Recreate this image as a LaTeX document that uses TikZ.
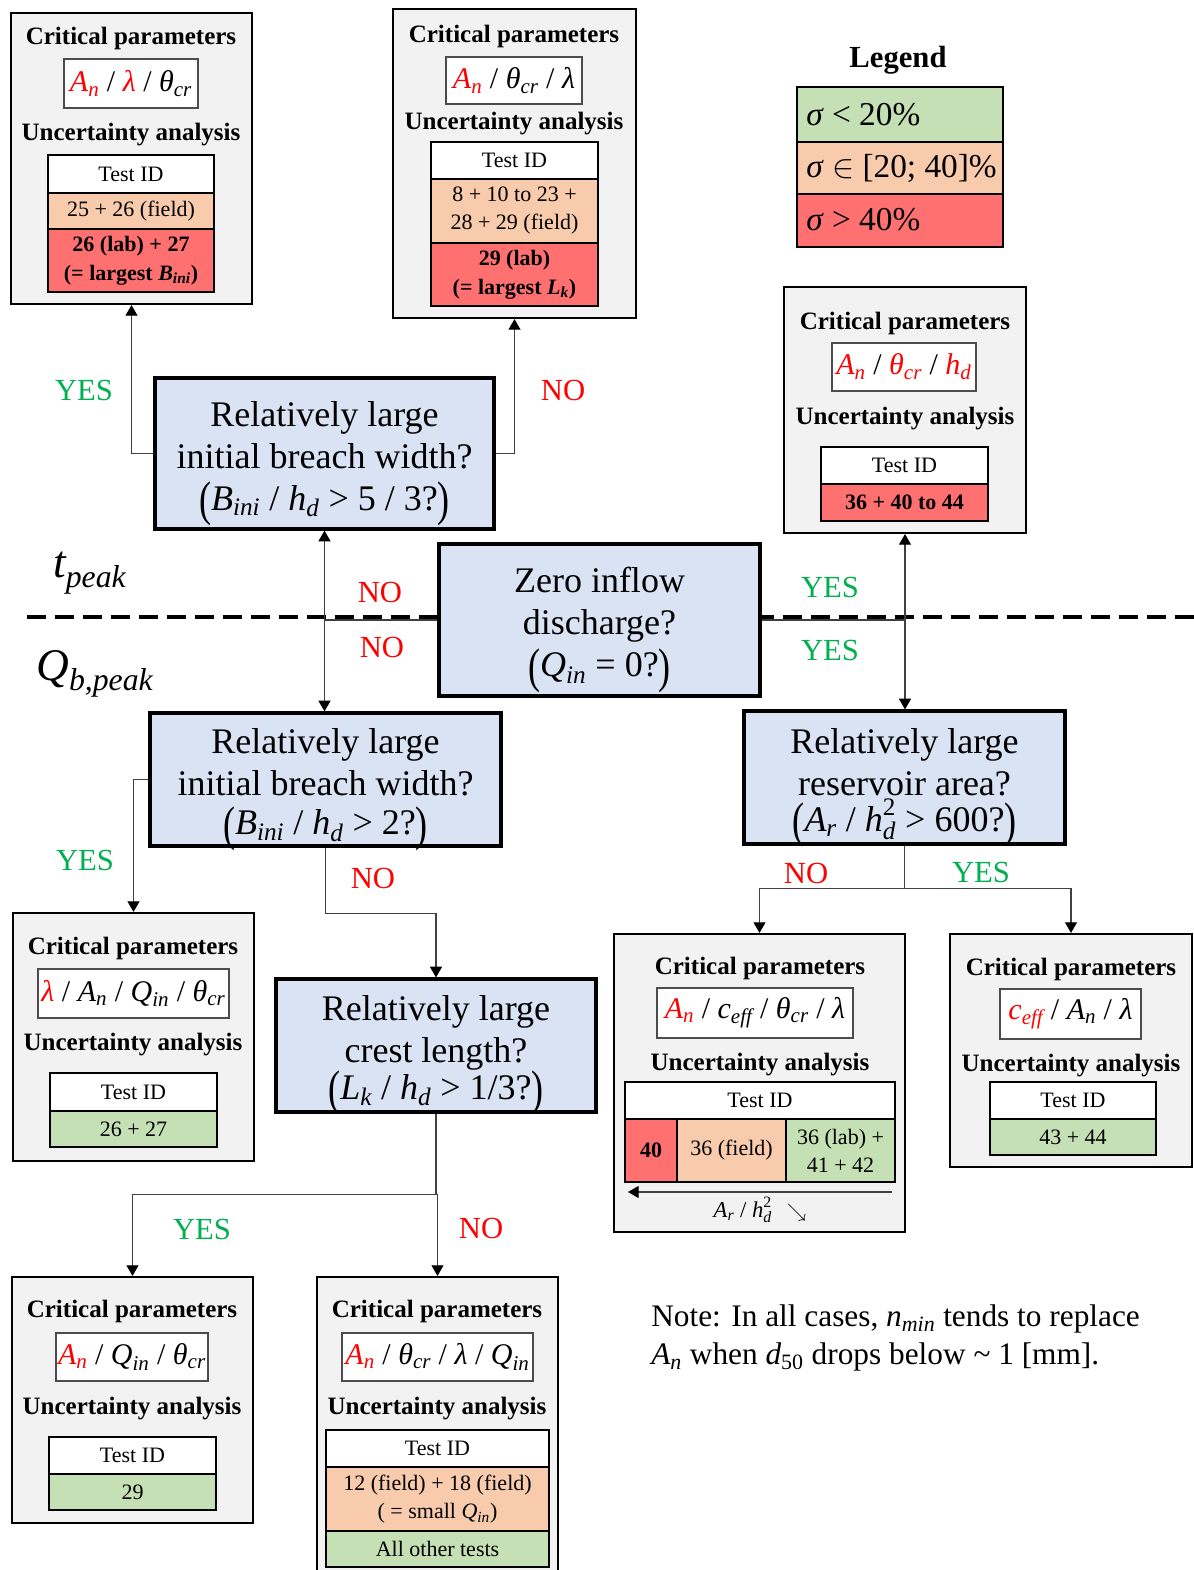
\documentclass[tikz,border=0pt]{standalone}
\usepackage{fontspec}
\usepackage{amsmath}
\usepackage{graphicx}
\setmainfont{Liberation Serif}
\usetikzlibrary{arrows.meta,fit,calc}
\definecolor{gbox}{HTML}{F2F2F2}
\definecolor{dbox}{HTML}{DAE3F3}
\definecolor{cgreen}{HTML}{C5E0B4}
\definecolor{cpeach}{HTML}{F8CBAD}
\definecolor{cred}{HTML}{FF7171}
\definecolor{tgreen}{HTML}{00B050}
\definecolor{tred}{HTML}{FF0000}
\newcommand\V[2]{$\textit{#1}_{\textit{#2}}$}
\newcommand\RV[2]{\textcolor{tred}{\V{#1}{#2}}}
\newcommand\bp[1]{\raisebox{-0.14em}{\scalebox{1}[1.35]{#1}}}
\tikzset{
  obox/.style={draw=black, line width=1.6pt, fill=gbox, inner sep=0pt},
  decbox/.style={draw=black, line width=2.4pt, fill=dbox, inner sep=0pt},
  dtxt/.style={inner sep=0pt, align=center, yshift=-7.5pt, font=\fontsize{27}{31.5}\selectfont},
  pbox/.style={draw=black!70, line width=0.9pt, fill=white, inner sep=0pt},
  ptxt/.style={inner sep=0pt, font=\fontsize{22.5}{26}\selectfont},
  trow/.style={draw=black, line width=1.6pt, inner sep=0pt},
  rtxt/.style={inner sep=0pt, align=center, font=\fontsize{16.5}{21}\selectfont},
  btxt/.style={inner sep=0pt, align=center, font=\bfseries\fontsize{16.5}{21.5}\selectfont},
  head/.style={inner sep=0pt, text height=0.66em, text depth=0pt, yshift=-2.5pt, font=\bfseries\fontsize{18.75}{22}\selectfont},
  yeslbl/.style={text=tgreen, inner sep=0pt, font=\fontsize{23}{26}\selectfont},
  nolbl/.style={text=tred, inner sep=0pt, font=\fontsize{23}{26}\selectfont},
  legtxt/.style={inner sep=0pt, anchor=west, font=\fontsize{25}{28}\selectfont},
  conn/.style={draw=black!75, line width=0.8pt},
  arr/.style={conn, -{Triangle[width=9pt,length=8pt,color=black]}},
}
% row of a table: name, fill, fit points, text style, text
\newcommand\TR[5]{\node[trow, fill=#2, fit={#3}] (#1) {};
  \node[#4] (#1x) at (#1.center) {#5};}
% parameter box: name, fit points, text
\newcommand\PB[3]{\node[pbox, fit={#2}] (#1) {};
  \node[ptxt] (#1x) at (#1.center) {#3};}
% decision box: name, fit points, text
\newcommand\DB[3]{\node[decbox, fit={#2}] (#1) {};
  \node[dtxt] (#1x) at (#1.center) {#3};}
\begin{document}
\begin{tikzpicture}[x=0.75pt,y=-0.75pt]
\fill[white] (0,0) rectangle (1194,1570);
\useasboundingbox (0,0) rectangle (1194,1570);

% dashed separator
\draw[line width=2.4pt, dash pattern=on 14pt off 7pt] (27,617) -- (1194,617);

% ---------- top-left box
\node[obox, fit={(11,13)(252,304)}] (tl) {};
\node[head] (tlh1) at (131,37) {Critical parameters};
\PB{tlp}{(64,59)(198,108)}{\RV{A}{n} / \textcolor{tred}{\textit{λ}} / \V{θ}{cr}}
\node[head] (tlh2) at (131,133) {Uncertainty analysis};
\TR{tlt1}{white}{(48,155)(214,193)}{rtxt}{Test ID}
\TR{tlt2}{cpeach}{(48,193)(214,229)}{rtxt}{25 + 26 (field)}
\TR{tlt3}{cred}{(48,229)(214,292)}{btxt}{26 (lab) + 27\\(= largest \V{B}{ini})}

% ---------- top-middle box
\node[obox, fit={(393,9)(636,318)}] (tm) {};
\node[head] (tmh1) at (514,35) {Critical parameters};
\PB{tmp}{(446,57)(582,104)}{\RV{A}{n} / \V{θ}{cr} / \textit{λ}}
\node[head] (tmh2) at (514,122) {Uncertainty analysis};
\TR{tmt1}{white}{(431,142)(598,179)}{rtxt}{Test ID}
\TR{tmt2}{cpeach}{(431,179)(598,243)}{rtxt}{8 + 10 to 23 +\\28 + 29 (field)}
\TR{tmt3}{cred}{(431,243)(598,306)}{btxt}{29 (lab)\\(= largest \V{L}{k})}

% ---------- legend
\node[inner sep=0pt, font=\bfseries\fontsize{23}{26}\selectfont] (legt) at (898,60) {Legend};
\node[trow, fill=cgreen, fit={(797,87)(1003,142)}] (lg1) {};
\node[trow, fill=cpeach, fit={(797,142)(1003,194)}] (lg2) {};
\node[trow, fill=cred, fit={(797,194)(1003,247)}] (lg3) {};
\node[legtxt] (lg1t) at (806,115) {\textit{σ} < 20\%};
\node[legtxt] (lg2t) at (806,168) {\textit{σ} $\in$ [20; 40]\%};
\node[legtxt] (lg3t) at (806,220) {\textit{σ} > 40\%};

% ---------- right box 1
\node[obox, fit={(784,287)(1026,533)}] (r1) {};
\node[head] (r1h1) at (905,322) {Critical parameters};
\PB{r1p}{(832,343)(976,391)}{\RV{A}{n} / \RV{θ}{cr} / \RV{h}{d}}
\node[head] (r1h2) at (905,417) {Uncertainty analysis};
\TR{r1t1}{white}{(821,447)(988,484)}{rtxt}{Test ID}
\TR{r1t2}{cred}{(821,484)(988,521)}{btxt}{36 + 40 to 44}

% ---------- decision boxes
\DB{d1}{(155,378)(494,529)}{Relatively large\\initial breach width?\\\bp{(}\V{B}{ini} / \V{h}{d} > 5 / 3?\bp{)}}
\DB{z}{(439,544)(760,696)}{Zero inflow\\discharge?\\\bp{(}\V{Q}{in} = 0?\bp{)}}
\DB{d3}{(150,713)(501,846)}{Relatively large\\initial breach width?\\[-2pt]\bp{(}\V{B}{ini} / \V{h}{d} > 2?\bp{)}}
\DB{d4}{(744,711)(1065,844)}{Relatively large\\reservoir area?\\[-4.5pt]\bp{(}\V{A}{r} / $\textit{h}^{\textrm{2}}_{\textit{d}}$ > 600?\bp{)}}
\DB{d5}{(276,979)(596,1112)}{Relatively large\\crest length?\\[-4pt]\bp{(}\V{L}{k} / \V{h}{d} > 1/3?\bp{)}}

% ---------- t_peak and Q_b,peak
\node[inner sep=0pt, anchor=base west, font=\fontsize{34}{36}\selectfont] (tpk) at (53,577) {$\textit{t}_{\textit{peak}}$};
\node[inner sep=0pt, anchor=base west, font=\fontsize{34}{36}\selectfont] (qpk) at (36,680) {$\textit{Q}_{\textit{b,peak}}$};

% ---------- left box 2
\node[obox, fit={(13,913)(254,1161)}] (l2) {};
\node[head] (l2h1) at (133,947) {Critical parameters};
\PB{l2p}{(38,969)(229,1018)}{\textcolor{tred}{\textit{λ}} / \V{A}{n} / \V{Q}{in} / \V{θ}{cr}}
\node[head] (l2h2) at (133,1043) {Uncertainty analysis};
\TR{l2t1}{white}{(50,1073)(217,1111)}{rtxt}{Test ID}
\TR{l2t2}{cgreen}{(50,1111)(217,1147)}{rtxt}{26 + 27}

% ---------- right box 2
\node[obox, fit={(614,934)(905,1232)}] (r2) {};
\node[head] (r2h1) at (760,967) {Critical parameters};
\PB{r2p}{(657,988)(853,1038)}{\RV{A}{n} / \V{c}{eff} / \V{θ}{cr} / \textit{λ}}
\node[head] (r2h2) at (760,1063) {Uncertainty analysis};
\TR{r2t1}{white}{(625,1082)(895,1119)}{rtxt}{Test ID}
\TR{r2c1}{cred}{(625,1119)(677,1182)}{btxt}{40}
\TR{r2c2}{cpeach}{(677,1119)(786,1182)}{rtxt}{36 (field)}
\TR{r2c3}{cgreen}{(786,1119)(895,1182)}{rtxt}{36 (lab) +\\41 + 42}
\coordinate (r2a1) at (892,1192);
\coordinate (r2a2) at (628,1192);
\draw[arr] (r2a1) -- (r2a2);
\node[inner sep=0pt, font=\fontsize{17}{20}\selectfont] (r2ax) at (760,1210) {\V{A}{r} / $\textit{h}^{\textrm{2}}_{\textit{d}}$ \, {\Large$\searrow$}};

% ---------- right box 3
\node[obox, fit={(950,934)(1192,1167)}] (r3) {};
\node[head] (r3h1) at (1071,968) {Critical parameters};
\PB{r3p}{(1000,989)(1141,1039)}{\RV{c}{eff} / \V{A}{n} / \textit{λ}}
\node[head] (r3h2) at (1071,1064) {Uncertainty analysis};
\TR{r3t1}{white}{(990,1082)(1156,1119)}{rtxt}{Test ID}
\TR{r3t2}{cgreen}{(990,1119)(1156,1155)}{rtxt}{43 + 44}

% ---------- bottom-left box
\node[obox, fit={(12,1277)(253,1523)}] (bl) {};
\node[head] (blh1) at (132,1310) {Critical parameters};
\PB{blp}{(56,1333)(208,1381)}{\RV{A}{n} / \V{Q}{in} / \V{θ}{cr}}
\node[head] (blh2) at (132,1407) {Uncertainty analysis};
\TR{blt1}{white}{(49,1437)(216,1474)}{rtxt}{Test ID}
\TR{blt2}{cgreen}{(49,1474)(216,1510)}{rtxt}{29}

% ---------- bottom-middle box
\node[obox, fit={(317,1277)(558,1585)}] (bm) {};
\node[head] (bmh1) at (437,1310) {Critical parameters};
\PB{bmp}{(342,1333)(533,1381)}{\RV{A}{n} / \V{θ}{cr} / \textit{λ} / \V{Q}{in}}
\node[head] (bmh2) at (437,1407) {Uncertainty analysis};
\TR{bmt1}{white}{(326,1430)(549,1467)}{rtxt}{Test ID}
\TR{bmt2}{cpeach}{(326,1467)(549,1531)}{rtxt}{12 (field) + 18 (field)\\( = small \V{Q}{in})}
\TR{bmt3}{cgreen}{(326,1531)(549,1567)}{rtxt}{All other tests}

% ---------- note
\node[inner sep=0pt, anchor=north west, align=left, font=\fontsize{23.5}{29}\selectfont] (note) at (651,1304) {Note: In all cases, \V{n}{min} tends to replace\\\V{A}{n} when $\textit{d}_{\textrm{50}}$ drops below \textasciitilde{} 1 [mm].};

% ---------- connectors
\draw[arr] (d1.west) -| (tl.south);
\draw[arr] (d1.east) -| (tm.south);
\coordinate (jl) at (d1.south |- z.west);
\draw[conn] (z.west) -- (jl);
\draw[arr] (jl) -- (d1.south);
\draw[arr] (jl) -- (jl |- d3.north);
\coordinate (jr) at (r1.south |- z.east);
\draw[conn] (z.east) -- (jr);
\draw[arr] (jr) -- (r1.south);
\draw[arr] (jr) -- (jr |- d4.north);
\draw[arr] (d3.west) -| (l2.north);
\coordinate (k1) at ($(d3.south)+(0,66)$);
\draw[arr] (d3.south) -- (k1) -| (d5.north);
\coordinate (k2) at ($(d5.south)+(0,81)$);
\draw[conn] (d5.south) -- (k2);
\draw[arr] (k2) -| (bl.north);
\draw[arr] (k2) -| (bm.north);
\coordinate (k3) at ($(d4.south)+(0,43)$);
\draw[conn] (d4.south) -- (k3);
\draw[arr] (k3) -| (r2.north);
\draw[arr] (k3) -| (r3.north);

% ---------- yes/no labels
\node[yeslbl] (y1) at (84,390) {YES};
\node[nolbl] (n1) at (563,390) {NO};
\node[nolbl] (n2) at (380,592) {NO};
\node[nolbl] (n3) at (382,647) {NO};
\node[yeslbl] (y2) at (830,587) {YES};
\node[yeslbl] (y3) at (830,650) {YES};
\node[yeslbl] (y4) at (85,860) {YES};
\node[nolbl] (n4) at (373,878) {NO};
\node[nolbl] (n5) at (806,873) {NO};
\node[yeslbl] (y5) at (981,872) {YES};
\node[yeslbl] (y6) at (202,1229) {YES};
\node[nolbl] (n6) at (481,1228) {NO};
\end{tikzpicture}
\end{document}
